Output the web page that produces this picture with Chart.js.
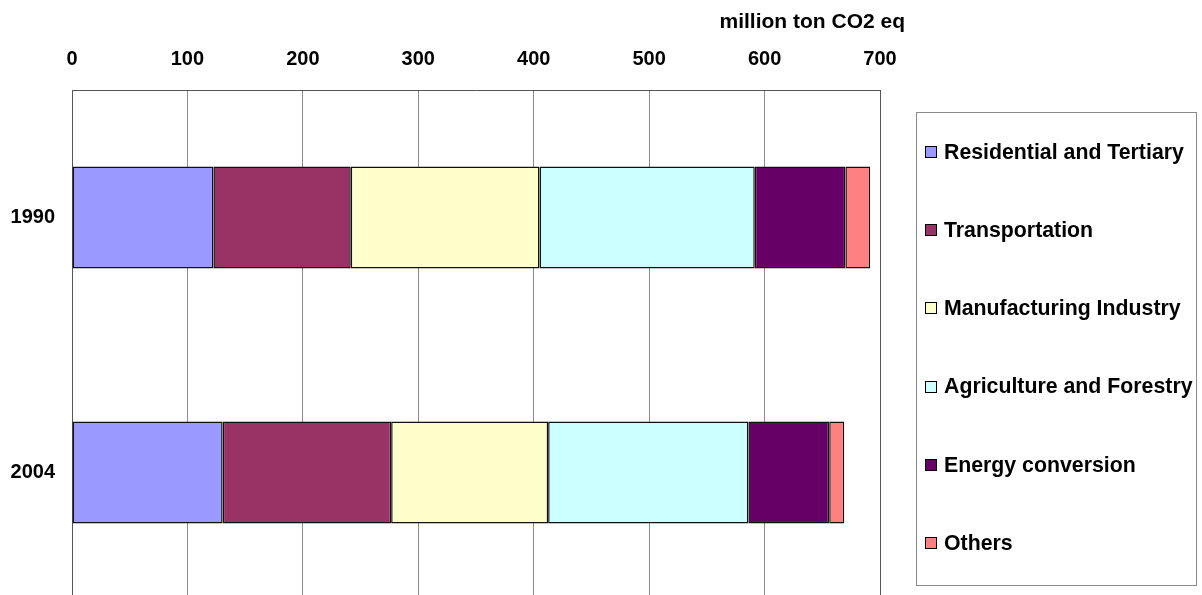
<!DOCTYPE html>
<html>
<head>
<meta charset="utf-8">
<title>CO2 emissions by sector, 1990 and 2004</title>
<script src="https://cdn.jsdelivr.net/npm/chart.js@4.4.1/dist/chart.umd.min.js"></script>
<style>
  html, body { margin: 0; padding: 0; background: #ffffff; overflow: hidden; }
  #wrap { position: relative; width: 1202px; height: 629px; }
</style>
</head>
<body>
<div id="wrap"><canvas id="chart" width="1202" height="629"></canvas></div>
<script>
// Emissions per sector (million ton CO2 eq)
const categories = ['1990', '2004'];
const residential = [122.5, 130.5];
const transportation = [119, 146];
const manufacturing = [163.5, 136];
const agriculture = [186.5, 173.5];
const energy = [78.5, 70];
const others = [21.5, 13];

const seriesNames = ['Residential and Tertiary', 'Transportation', 'Manufacturing Industry',
  'Agriculture and Forestry', 'Energy conversion', 'Others'];
const seriesColors = ['#9999FF', '#993366', '#FFFFCC', '#CCFFFF', '#660066', '#FF8080'];
const seriesValues = [residential, transportation, manufacturing, agriculture, energy, others];

const axisMin = 0, axisMax = 700, axisStep = 100;
const unitLabel = 'million ton CO2 eq';

const FONT = '"Liberation Sans", Arial, sans-serif';

// Axis unit caption plus the boxed legend on the right
const decorations = {
  id: 'decorations',
  afterDraw(chart) {
    const ctx = chart.ctx;
    ctx.save();
    ctx.fillStyle = '#000';
    ctx.font = 'bold 21px ' + FONT;
    ctx.textAlign = 'right';
    ctx.textBaseline = 'alphabetic';
    ctx.fillText(unitLabel, 905, 28);

    // legend frame
    const bx = 916.5, by = 112.5, bw = 280, bh = 473;
    ctx.strokeStyle = '#8a8a8a';
    ctx.lineWidth = 1;
    ctx.strokeRect(bx, by, bw, bh);

    ctx.font = 'bold 21.3px ' + FONT;
    ctx.textAlign = 'left';
    ctx.textBaseline = 'middle';
    chart.data.datasets.forEach((ds, i) => {
      const cy = 152 + i * 78.2;
      ctx.fillStyle = ds.backgroundColor;
      ctx.fillRect(925, Math.round(cy - 6), 12, 12);
      ctx.strokeStyle = '#000';
      ctx.strokeRect(925.5, Math.round(cy - 6) + 0.5, 11, 11);
      ctx.fillStyle = '#000';
      ctx.fillText(ds.label, 944, cy + 1);
    });
    ctx.restore();
  }
};

new Chart(document.getElementById('chart'), {
  type: 'bar',
  data: {
    labels: categories,
    datasets: seriesNames.map((name, i) => ({
      label: name,
      data: seriesValues[i],
      backgroundColor: seriesColors[i],
      borderColor: '#111111',
      borderWidth: 1.5,
      borderSkipped: false,
      categoryPercentage: 1,
      barPercentage: 0.4
    }))
  },
  options: {
    indexAxis: 'y',
    responsive: false,
    animation: false,
    devicePixelRatio: 1,
    layout: { padding: { left: 0, right: 322, top: 0, bottom: 0 } },
    plugins: {
      legend: { display: false },
      tooltip: { enabled: false }
    },
    scales: {
      x: {
        position: 'top',
        stacked: true,
        min: axisMin,
        max: axisMax,
        ticks: {
          stepSize: axisStep,
          color: '#000',
          font: { family: FONT, size: 20, weight: 'bold' },
          padding: 19,
          maxRotation: 0
        },
        grid: {
          drawTicks: false,
          color: (c) => (c.tick && c.tick.value === axisMax) ? '#555555' : '#8c8c8c',
          lineWidth: 1
        },
        border: { display: true, color: '#555555', width: 1 },
        afterFit(scale) { scale.height = 90; }
      },
      y: {
        stacked: true,
        ticks: {
          color: '#000',
          font: { family: FONT, size: 20, weight: 'bold' },
          padding: 17
        },
        grid: { display: false, drawTicks: false },
        border: { display: true, color: '#555555', width: 1 },
        afterFit(scale) { scale.width = 72; }
      }
    }
  },
  plugins: [decorations]
});
</script>
</body>
</html>
